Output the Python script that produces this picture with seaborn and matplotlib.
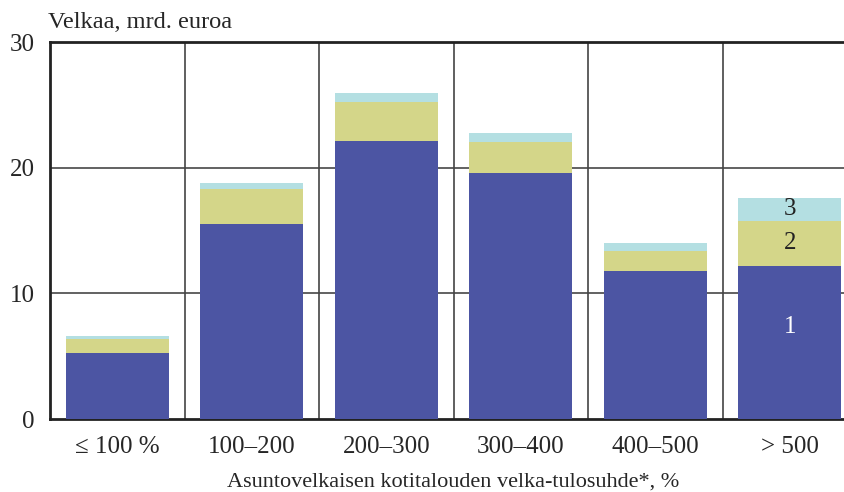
import pandas as pd
import matplotlib
matplotlib.use('Agg')
import matplotlib.pyplot as plt
import seaborn as sns

# Data (mrd. euroa)
categories = ['≤ 100 %', '100–200', '200–300', '300–400', '400–500', '> 500']
part1 = [5.23, 15.49, 22.10, 19.57, 11.78, 12.20]
part2 = [1.16, 2.84, 3.15, 2.50, 1.61, 3.58]
part3 = [0.21, 0.47, 0.67, 0.66, 0.59, 1.81]

df = pd.DataFrame({'cat': categories, 'p1': part1, 'p2': part2, 'p3': part3})
df['top1'] = df['p1']
df['top2'] = df['p1'] + df['p2']
df['top3'] = df['top2'] + df['p3']

sns.set_style('white')
plt.rcParams['font.family'] = ['Liberation Serif', 'DejaVu Serif']

fig = plt.figure(figsize=(8.44, 4.92), dpi=100)
ax = fig.add_axes([50 / 844, 73 / 492, 807 / 844, 377 / 492])

colors = {'p1': '#4c55a3', 'p2': '#d4d689', 'p3': '#b4dfe2'}

# stack by drawing the cumulative totals from the tallest down
sns.barplot(x='cat', y='top3', data=df, order=categories, color=colors['p3'],
            width=0.766, saturation=1, linewidth=0, ax=ax, zorder=3)
sns.barplot(x='cat', y='top2', data=df, order=categories, color=colors['p2'],
            width=0.766, saturation=1, linewidth=0, ax=ax, zorder=3)
sns.barplot(x='cat', y='top1', data=df, order=categories, color=colors['p1'],
            width=0.766, saturation=1, linewidth=0, ax=ax, zorder=3)

ax.set_xlim(-0.5, 5.5)
ax.set_ylim(0, 30)
ax.set_yticks([0, 10, 20, 30])
ax.tick_params(axis='y', labelsize=18, length=0, pad=11)
ax.tick_params(axis='x', labelsize=18, length=0, pad=12)

for y in [10, 20]:
    ax.axhline(y, color='#555555', lw=1.3, zorder=1)
for x in [0.5, 1.5, 2.5, 3.5, 4.5]:
    ax.axvline(x, color='#444444', lw=1.2, zorder=1)

for side in ['left', 'bottom', 'top']:
    ax.spines[side].set_color('#222222')
    ax.spines[side].set_linewidth(2)
ax.spines['right'].set_visible(False)

ax.set_xlabel('Asuntovelkaisen kotitalouden velka-tulosuhde*, %', fontsize=16, labelpad=11)
ax.set_ylabel('')
fig.text(48 / 844, 1 - 22 / 492, 'Velkaa, mrd. euroa', fontsize=17.6, va='center', ha='left')

# segment labels in the last bar
last = len(categories) - 1
ax.text(last, 7.3, '1', color='white', fontsize=18, ha='center', va='center', zorder=4)
ax.text(last, (df['top1'][last] + df['top2'][last]) / 2, '2', color='#222222',
        fontsize=18, ha='center', va='center', zorder=4)
ax.text(last, (df['top2'][last] + df['top3'][last]) / 2, '3', color='#222222',
        fontsize=18, ha='center', va='center', zorder=4)

fig.savefig('out.png', dpi=100)
